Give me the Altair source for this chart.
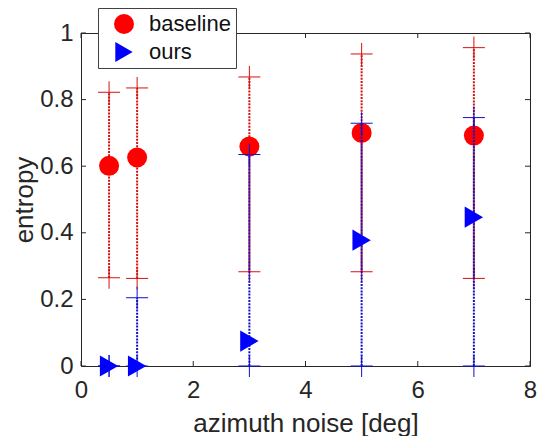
import altair as alt
import pandas as pd

# ---- data ----
noise = [0.5, 1, 3, 5, 7]
base_mean = [0.601, 0.626, 0.659, 0.700, 0.692]
base_low = [0.265, 0.263, 0.283, 0.283, 0.263]
base_high = [0.822, 0.835, 0.868, 0.937, 0.956]
ours_mean = [0.0, 0.0, 0.075, 0.378, 0.447]
ours_low = [0.0, 0.0, 0.0, 0.0, 0.0]
ours_high = [0.0, 0.205, 0.635, 0.729, 0.746]
series_names = ["baseline", "ours"]
x_ticks = [0, 2, 4, 6, 8]
y_ticks = [0, 0.2, 0.4, 0.6, 0.8, 1.0]

W, H = 449, 333
RED_M, BLUE_M = "#ff0000", "#0000ff"
RED_L, BLUE_L = "#d81010", "#1010cc"
PLUS = "M-1,0H1M0,-1V1"
FONT = "Liberation Sans"
TXT = "#262626"

base_df = pd.DataFrame({"x": noise, "m": base_mean, "lo": base_low, "hi": base_high,
                        "series": series_names[0]})
ours_df = pd.DataFrame({"x": noise, "m": ours_mean, "lo": ours_low, "hi": ours_high,
                        "series": series_names[1]})

xs = alt.Scale(domain=[0, 8], nice=False, zero=False)
ys = alt.Scale(domain=[0, 1], nice=False, zero=False)

xax = alt.Axis(values=x_ticks, title="azimuth noise [deg]", labelFontSize=24,
               titleFontSize=26, labelPadding=12, titlePadding=8, tickSize=0,
               grid=False, labelFlush=False)
yax = alt.Axis(values=y_ticks, title="entropy", labelFontSize=24, titleFontSize=26,
               labelPadding=8, titlePadding=2, tickSize=0, grid=False,
               labelExpr="format(datum.value, '~g')")

X = alt.X("x:Q", scale=xs, axis=xax)
color_enc = alt.Color("series:N", scale=alt.Scale(domain=series_names, range=[RED_M, BLUE_M]),
                      legend=alt.Legend(title=None, orient="none", legendX=17, legendY=-25,
                                        fillColor="white", strokeColor="#404040",
                                        padding=5, rowPadding=6, symbolSize=400,
                                        symbolOffset=10, labelOffset=14, labelFontSize=22,
                                        symbolStrokeWidth=0, labelColor="#111111",
                                        labelExpr="datum.label + ' '",
                                        symbolType="circle"))
shape_enc = alt.Shape("series:N", scale=alt.Scale(domain=series_names,
                                                   range=["circle", "triangle-right"]),
                      legend=None)


def err_layers(df, line_color):
    src = alt.Chart(df)
    rule = src.mark_rule(strokeDash=[2, 1.2], strokeWidth=2, color=line_color).encode(
        x=X, y=alt.Y("lo:Q", scale=ys, axis=yax), y2="hi:Q")
    cap_lo = src.mark_point(shape=PLUS, size=484, filled=False, strokeWidth=1,
                            color=line_color, opacity=1).encode(
        x=X, y=alt.Y("lo:Q", scale=ys, axis=yax))
    cap_hi = src.mark_point(shape=PLUS, size=484, filled=False, strokeWidth=1,
                            color=line_color, opacity=1).encode(
        x=X, y=alt.Y("hi:Q", scale=ys, axis=yax))
    return [rule, cap_lo, cap_hi]


def pts(df, size):
    return alt.Chart(df).mark_point(filled=True, opacity=1, size=size).encode(
        x=X, y=alt.Y("m:Q", scale=ys, axis=yax), color=color_enc, shape=shape_enc)


# inward ticks (MATLAB style box)
xt = alt.Chart(pd.DataFrame({"t": x_ticks}))
yt = alt.Chart(pd.DataFrame({"t": y_ticks}))
ticks = [
    xt.mark_rule(color=TXT, strokeWidth=1).encode(
        x=alt.X("t:Q", scale=xs, axis=xax), y=alt.value(H), y2=alt.value(H - 5)),
    xt.mark_rule(color=TXT, strokeWidth=1).encode(
        x=alt.X("t:Q", scale=xs, axis=xax), y=alt.value(0), y2=alt.value(5)),
    yt.mark_rule(color=TXT, strokeWidth=1).encode(
        y=alt.Y("t:Q", scale=ys, axis=yax), x=alt.value(0), x2=alt.value(5)),
    yt.mark_rule(color=TXT, strokeWidth=1).encode(
        y=alt.Y("t:Q", scale=ys, axis=yax), x=alt.value(W), x2=alt.value(W - 5)),
]

layers = ticks + err_layers(base_df, RED_L) + [pts(base_df, 400)] + \
    err_layers(ours_df, BLUE_L) + [pts(ours_df, 450)]

chart = alt.layer(*layers).properties(
    width=W, height=H,
    autosize=alt.AutoSizeParams(type="none"),
    padding={"left": 73, "top": 25, "right": 7, "bottom": 70},
    background="white",
).configure_view(stroke=TXT, strokeWidth=1).configure_axis(
    domainColor=TXT, labelColor=TXT, titleColor=TXT,
    labelFont=FONT, titleFont=FONT, titleFontWeight="normal",
).configure_legend(labelFont=FONT)

chart.save("out.html", embed_options={"renderer": "svg", "actions": False})
